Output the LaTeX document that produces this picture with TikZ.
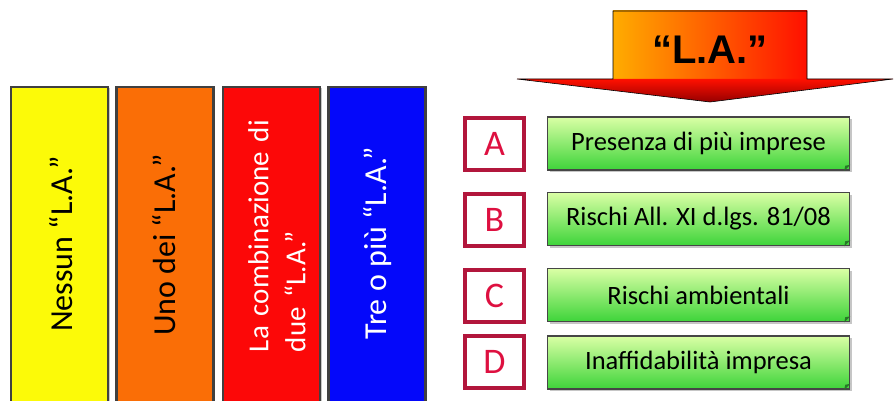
\documentclass[tikz,border=0pt]{standalone}
\usepackage{fontspec}
\setmainfont{Carlito}
\newfontfamily\arialfont{Liberation Sans}
\usetikzlibrary{shadows,calc}
\definecolor{colyellow}{RGB}{252,250,8}
\definecolor{colorange}{RGB}{250,110,6}
\definecolor{colred}{RGB}{252,8,8}
\definecolor{colblue}{RGB}{4,8,250}
\definecolor{crimson}{RGB}{222,16,64}
\definecolor{crimsonborder}{RGB}{178,22,60}
\definecolor{lightgreen}{RGB}{218,255,165}
\definecolor{midgreen}{RGB}{62,212,58}
\definecolor{foldgreen}{RGB}{40,120,40}
\definecolor{arroworange}{RGB}{255,172,0}
\definecolor{arrowred}{RGB}{255,16,0}
\definecolor{arrowdark}{RGB}{150,0,0}
\tikzset{
  colbox/.style={draw={rgb,255:red,64;green,64;blue,64}, line width=2.5pt, minimum width=97pt, minimum height=340pt, inner sep=0pt,
    drop shadow={opacity=0.45, shadow xshift=1.5pt, shadow yshift=-1.5pt}},
  coltext/.style={rotate=90, font=\fontsize{32}{37}\selectfont, inner sep=0pt},
  letbox/.style={draw=crimsonborder, line width=4pt, fill=white, minimum width=59pt, minimum height=52pt, inner sep=0pt,
    text=crimson, font=\fontsize{36}{40}\selectfont,
    drop shadow={opacity=0.45, shadow xshift=1.5pt, shadow yshift=-1.5pt}},
  greenbox/.style={draw={rgb,255:red,70;green,70;blue,70}, line width=1.5pt, top color=lightgreen, bottom color=midgreen,
    minimum width=302pt, minimum height=53pt, inner sep=0pt, font=\fontsize{26.5}{30}\selectfont,
    drop shadow={opacity=0.45, shadow xshift=2pt, shadow yshift=-2pt}},
}
\begin{document}
\begin{tikzpicture}[x=1pt,y=-1pt]
\useasboundingbox (0,0) rectangle (894,401);
\clip (0,0) rectangle (894,401);
% columns
\node[colbox, fill=colyellow] (c1) at (59.5,257) {};
\node[colbox, fill=colorange] (c2) at (165,257) {};
\node[colbox, fill=colred] (c3) at (271.5,257) {};
\node[colbox, fill=colblue] (c4) at (377,257) {};
\node[coltext] (t1) at (61,244) {Nessun “L.A.”};
\node[coltext] (t2) at (164,245) {Uno dei “L.A.”};
\node[coltext, text=white, align=left, text width=229pt, font=\fontsize{29}{37}\selectfont] (t3) at (277,237.5) {\makebox[229pt][s]{La combinazione di}\\due “L.A.”};
\node[coltext, text=white] (t4) at (378,243) {Tre o più “L.A.”};
% big arrow
\shade[left color=arroworange, right color=arrowred] (613,11) rectangle (807,80);
\shade[top color=arrowred, bottom color=arrowdark] (517,79) -- (893,79) -- (710,102) -- cycle;
\draw[line width=0.6pt] (613,79) -- (613,11) -- (807,11) -- (807,79) -- (893,79) -- (710,102) -- (517,79) -- cycle;
\node[font=\arialfont\bfseries\fontsize{40}{44}\selectfont] (la) at (710,50) {“L.A.”};
% letters
\node[letbox] (A) at (494.5,144) {A};
\node[letbox] (B) at (494.5,220) {B};
\node[letbox] (C) at (494.5,295.5) {C};
\node[letbox] (D) at (494.5,362) {D};
% green boxes
\node[greenbox] (gA) at (698.5,143.5) {Presenza di più imprese};
\node[greenbox] (gB) at (698.5,219) {Rischi All. XI d.lgs. 81/08};
\node[greenbox] (gC) at (698.5,295) {Rischi ambientali};
\node[greenbox] (gD) at (698.5,362.5) {Inaffidabilità impresa};
\foreach \g in {gA,gB,gC,gD}{
  \fill[foldgreen] ($(\g.south east)+(-6,0)$) -- ($(\g.south east)+(0,-6)$) -- ($(\g.south east)+(-5,-5)$) -- cycle;
}
\end{tikzpicture}
\end{document}
